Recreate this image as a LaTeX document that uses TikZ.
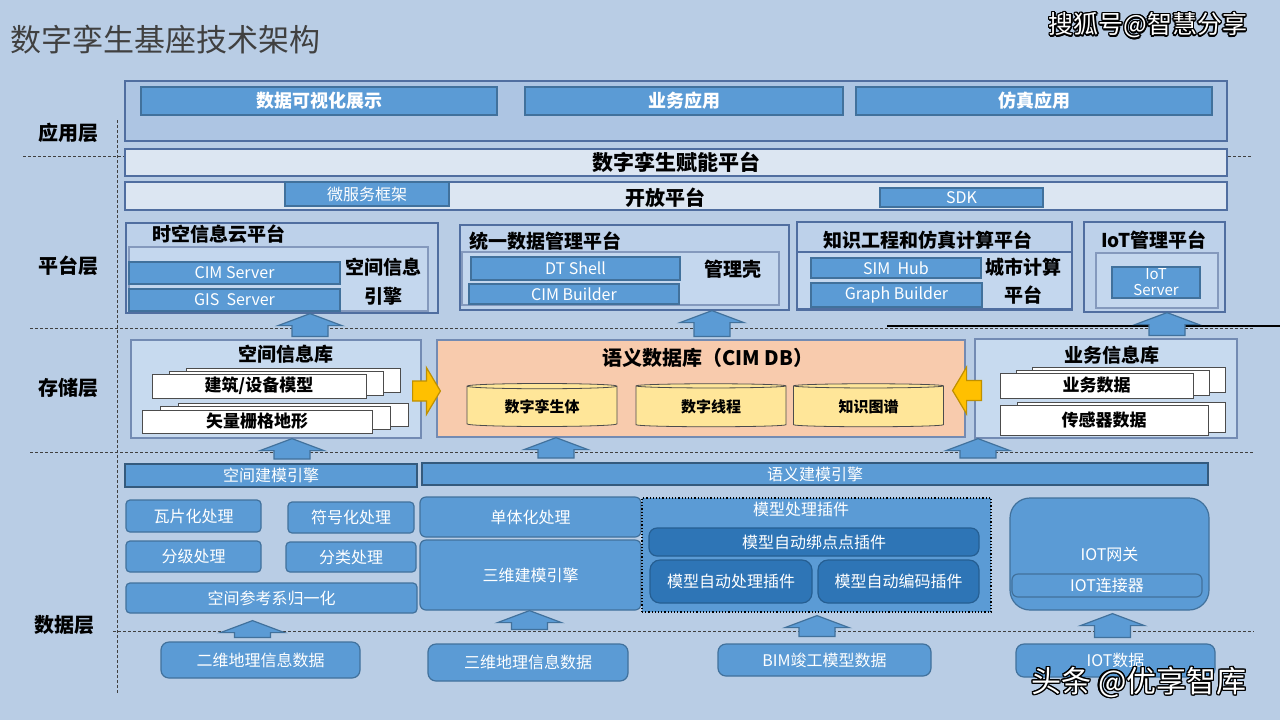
\documentclass[tikz,border=0pt]{standalone}
\usepackage{fontspec}
\setmainfont{Noto Sans CJK SC}
\usepackage{contour}
\usepackage{tikz}
\usetikzlibrary{calc,shapes.geometric,shadows}
\contourlength{0.7pt}
\definecolor{bg}{HTML}{B9CDE5}
\definecolor{mid}{HTML}{5B9BD5}
\definecolor{deep}{HTML}{2E75B6}
\definecolor{edge}{HTML}{41719C}
\definecolor{grpedge}{HTML}{506EA0}
\definecolor{grp}{HTML}{ADC5E3}
\definecolor{plat}{HTML}{BDD1EA}
\definecolor{inner}{HTML}{C4D7EE}
\definecolor{light}{HTML}{DCE6F2}
\definecolor{store}{HTML}{C7DAEF}
\definecolor{peach}{HTML}{F8CBAD}
\definecolor{cylf}{HTML}{FFE699}
\definecolor{gold}{HTML}{FFC000}
\definecolor{ttl}{HTML}{404040}
\newcommand{\hd}{\fontsize{9.5}{11}\selectfont\bfseries}
% block arrow pointing up: x from #1, tip at y of #2
\newcommand{\uparr}[2]{\path[blockup] let \p1=(#1), \p2=(#2) in
  (\x1-9pt,\y1) -- (\x1-9pt,\y2-6pt) -- (\x1-16pt,\y2-6pt) -- (\x1,\y2)
  -- (\x1+16pt,\y2-6pt) -- (\x1+9pt,\y2-6pt) -- (\x1+9pt,\y1) -- cycle;}
% horizontal block arrow: y from #1, tip at x of #2, head length #3
\newcommand{\sidearr}[3]{\path[yarrow] let \p1=(#1), \p2=(#2) in
  (\x1,\y1-5pt) -- ({\x2-(#3)},\y1-5pt) -- ({\x2-(#3)},\y1-11.75pt) -- (\x2,\y1)
  -- ({\x2-(#3)},\y1+11.75pt) -- ({\x2-(#3)},\y1+5pt) -- (\x1,\y1+5pt) -- cycle;}
\tikzset{
  font=\fontsize{8}{9.5}\selectfont
}

\begin{document}
\begin{tikzpicture}[x=0.5pt,y=-0.5pt,
  blk/.style={rectangle,draw=edge,fill=mid,text=white,inner sep=0pt,line width=0.6pt},
  dark/.style={blk,fill=deep,draw=deep!80!black,rounded corners=4pt},
  grpbox/.style={rectangle,draw=grpedge,fill=plat,inner sep=0pt,line width=0.6pt},
  bar/.style={grpbox,fill=light},
  layer/.style={font=\fontsize{10}{12}\selectfont\bfseries},
  head/.style={font=\hd},
  page/.style={rectangle,draw=gray!60!black,fill=white,inner sep=0pt,font=\fontsize{8.5}{10}\selectfont\bfseries},
  cyl/.style={cylinder,shape border rotate=90,aspect=0.07,draw=gray!60!black,fill=cylf,
    minimum width=75pt,minimum height=21.5pt,inner sep=0pt,font=\fontsize{7.5}{9}\selectfont\bfseries},
  sep/.style={draw=ttl,line width=0.5pt,dash pattern=on 1.5pt off 1pt},
  blockup/.style={fill=mid,draw=edge,line width=0.6pt},
  yarrow/.style={fill=gold,draw=gold!75!black,line width=0.6pt}]
\useasboundingbox (0,0) rectangle (1280,720);
\fill[bg] (0,0) rectangle (1280,720);

% layer separators
\draw[sep] (23,156) -- (1253,156);
\draw[sep] (30,328) -- (1254,328);
\draw[sep] (30,452) -- (1254,452);
\draw[sep] (113,631) -- (1254,631);
\draw[sep] (117,120) -- (117,695);
\draw[black,line width=0.8pt] (887,326) -- (1280,326);

\node[anchor=west,text=ttl,font=\fontsize{15.5}{18}\selectfont] (title) at (3,40) {数字孪生基座技术架构};
\node[text=white,font=\fontsize{12.5}{14}\selectfont] (wm1) at (1148,26) {\contour{black}{搜狐号@智慧分享}};

\node[layer] (lapp) at (69,133) {应用层};
\node[layer] (lplat) at (69,266) {平台层};
\node[layer] (lstore) at (69,388) {存储层};
\node[layer] (ldata) at (64,625) {数据层};

% application layer
\node[grpbox,fill=grp,minimum width=551pt,minimum height=30pt] (appbox) at (676,111) {};
\node[blk,font=\fontsize{9}{10}\selectfont\bfseries,minimum width=178pt,minimum height=14pt] (vis) at (319,101) {数据可视化展示};
\node[blk,font=\fontsize{9}{10}\selectfont\bfseries,minimum width=159pt,minimum height=14pt] (bizapp) at (684,101) {业务应用};
\node[blk,font=\fontsize{9}{10}\selectfont\bfseries,minimum width=178pt,minimum height=14pt] (simapp) at (1034,101) {仿真应用};

% platform layer
\node[bar,font=\fontsize{10.5}{12}\selectfont\bfseries,minimum width=551pt,minimum height=13.5pt] (enable) at (676,162.5) {数字孪生赋能平台};
\node[bar,minimum width=551pt,minimum height=14pt] (openp) at (676,196) {};
\node[head,font=\fontsize{10}{12}\selectfont\bfseries] (openlbl) at (665,198) {开放平台};
\node[blk,minimum width=82pt,minimum height=12pt] (msf) at (367,194) {微服务框架};
\node[blk,minimum width=81.5pt,minimum height=9.5pt] (sdk) at (961.5,197.5) {SDK};

\node[grpbox,minimum width=156pt,minimum height=45pt] (stcloud) at (282,268) {};
\node[head,anchor=west] (stcloudt) at (145,234) {时空信息云平台};
\node[grpbox,fill=inner,draw=grpedge!70,minimum width=149.5pt,minimum height=32pt] (stinner) at (278.5,279) {};
\node[blk,minimum width=105.5pt,minimum height=11pt] (cimsrv) at (234.5,273) {CIM Server};
\node[blk,minimum width=105.5pt,minimum height=11pt] (gissrv) at (234.5,300) {GIS\ \ Server};
\node[head,align=center,font=\fontsize{9.5}{14.5}\selectfont\bfseries] (spengine) at (383,282) {空间信息\\引擎};

\node[grpbox,minimum width=164.5pt,minimum height=42.5pt] (dmp) at (624.5,267.5) {};
\node[head,anchor=west] (dmpt) at (462,241) {统一数据管理平台};
\node[grpbox,fill=inner,draw=grpedge!70,minimum width=158.5pt,minimum height=26.5pt] (dmpin) at (620.5,278.5) {};
\node[blk,minimum width=104.5pt,minimum height=11.5pt] (dtshell) at (575.5,268.5) {DT Shell};
\node[blk,minimum width=105pt,minimum height=10pt] (cimbld) at (574,294) {CIM Builder};
\node[head] (shell) at (733,269) {管理壳};

\node[grpbox,minimum width=137.5pt,minimum height=44pt] (kep) at (934.5,266) {};
\node[grpbox,fill=inner,minimum width=137.5pt,minimum height=28.5pt] (kepin) at (934.5,280.5) {};
\node[head,anchor=west] (kept) at (816,240) {知识工程和仿真计算平台};
\node[blk,minimum width=85pt,minimum height=10pt] (simhub) at (896,268) {SIM\ \ Hub};
\node[blk,minimum width=85.5pt,minimum height=12pt] (graphb) at (896.5,295) {Graph Builder};
\node[head,align=center,font=\fontsize{9.5}{14}\selectfont\bfseries] (citycomp) at (1023,281) {城市计算\\平台};

\node[grpbox,minimum width=70.5pt,minimum height=45pt] (iotp) at (1154.5,267) {};
\node[head] (iotpt) at (1154,240) {IoT管理平台};
\node[grpbox,fill=inner,draw=grpedge!70,minimum width=61pt,minimum height=27.5pt] (iotin) at (1157,280.5) {};
\node[blk,align=center,font=\fontsize{7.5}{8}\selectfont,minimum width=44pt,minimum height=15.5pt] (iotsrv) at (1156,282.5) {IoT\\Server};

% storage layer
\node[grpbox,fill=store,draw=grpedge!80,minimum width=145pt,minimum height=49pt] (spdb) at (276,389) {};
\node[head] (spdbt) at (286,354) {空间信息库};
\node[page,minimum width=107pt,minimum height=12pt,
  double copy shadow={shadow xshift=8.5pt,shadow yshift=1.5pt,draw=gray!60!black,fill=white}] (bimpg) at (259,386) {建筑/设备模型};
\node[page,minimum width=115pt,minimum height=11.5pt,
  double copy shadow={shadow xshift=9pt,shadow yshift=1.75pt,draw=gray!60!black,fill=white}] (terpg) at (257,421.5) {矢量栅格地形};

\node[grpbox,fill=peach,draw=grpedge!80,minimum width=264pt,minimum height=48.5pt] (cimdb) at (701,388.5) {};
\node[head,font=\fontsize{10}{12}\selectfont\bfseries] (cimdbt) at (708,358) {语义数据库（CIM DB）};
\node[cyl] (twin) at (542,406.5) {数字孪生体};
\node[cyl] (thread) at (711,406.5) {数字线程};
\node[cyl] (kgraph) at (868.5,406.5) {知识图谱};

\node[grpbox,fill=store,draw=grpedge!80,minimum width=131pt,minimum height=49.5pt] (bizdb) at (1106,388.5) {};
\node[head] (bizdbt) at (1112,355) {业务信息库};
\node[page,minimum width=96.5pt,minimum height=12.5pt,
  double copy shadow={shadow xshift=8pt,shadow yshift=1.5pt,draw=gray!60!black,fill=white}] (bizpg) at (1096.5,385.5) {业务数据};
\node[page,minimum width=104pt,minimum height=15pt,
  copy shadow={shadow xshift=8.5pt,shadow yshift=1.5pt,draw=gray!60!black,fill=white}] (senspg) at (1104,420) {传感器数据};

\coordinate (yl1) at ([xshift=-4.5pt,yshift=-1pt]spdb.east);
\coordinate (yl2) at ([xshift=2pt]cimdb.west);
\coordinate (yr1) at ([xshift=3.5pt,yshift=-1pt]bizdb.west);
\coordinate (yr2) at ([xshift=-6.5pt]cimdb.east);
\sidearr{yl1}{yl2}{7pt}
\sidearr{yr1}{yr2}{-7pt}

% data layer
\node[blk,draw=edge!80!black,line width=1pt,minimum width=146pt,minimum height=11.5pt] (spme) at (271,475.5) {空间建模引擎};
\node[blk,draw=edge!80!black,line width=1pt,minimum width=393pt,minimum height=11pt] (seme) at (815,474) {语义建模引擎};
\node[blk,rounded corners=2pt,minimum width=67.5pt,minimum height=16pt] (tile) at (193.5,516) {瓦片化处理};
\node[blk,rounded corners=2pt,minimum width=63pt,minimum height=15.5pt] (symb) at (351,517.5) {符号化处理};
\node[blk,rounded corners=2pt,minimum width=67.5pt,minimum height=15.5pt] (grade) at (193.5,556.5) {分级处理};
\node[blk,rounded corners=2pt,minimum width=65pt,minimum height=15pt] (classf) at (351,557) {分类处理};
\node[blk,rounded corners=2pt,minimum width=145.5pt,minimum height=15pt] (crs) at (271.5,598) {空间参考系归一化};
\node[blk,rounded corners=3pt,minimum width=110.5pt,minimum height=20pt] (mono) at (530.5,517) {单体化处理};
\node[blk,rounded corners=3pt,minimum width=110.5pt,minimum height=35pt] (mod3d) at (530.5,575) {三维建模引擎};

\node[blk,draw=black,densely dotted,minimum width=174.5pt,minimum height=57pt] (plugin) at (816.5,555) {};
\node[text=white] (plugint) at (801,509) {模型处理插件};
\node[dark,minimum width=165pt,minimum height=14pt] (bind) at (814,542) {模型自动绑点点插件};
\node[dark,rounded corners=5pt,minimum width=81pt,minimum height=21.5pt] (autoproc) at (731,581.5) {模型自动处理插件};
\node[dark,rounded corners=5pt,minimum width=80.5pt,minimum height=21.5pt] (autocode) at (898.5,581.5) {模型自动编码插件};

\node[blk,rounded corners=10pt,minimum width=99.5pt,minimum height=56pt] (iotgw) at (1109.5,554) {IOT网关};
\node[blk,rounded corners=3pt,minimum width=95pt,minimum height=11.5pt] (iotconn) at (1107,585.5) {IOT连接器};

\node[blk,rounded corners=4pt,minimum width=99.5pt,minimum height=18pt] (d2d) at (260.5,660) {二维地理信息数据};
\node[blk,rounded corners=4pt,minimum width=100pt,minimum height=18.5pt] (d3d) at (528,662.5) {三维地理信息数据};
\node[blk,rounded corners=4pt,minimum width=106.5pt,minimum height=16pt] (dbim) at (824.5,660) {BIM竣工模型数据};
\node[blk,rounded corners=4pt,minimum width=99.5pt,minimum height=16.5pt] (diot) at (1115.5,660.5) {IOT数据};

% block arrows between layers
\coordinate (u1) at ([xshift=17pt,yshift=1.5pt]spdb.north);
\coordinate (u2) at ([xshift=5.5pt,yshift=1.5pt]cimdb.north);
\coordinate (u3) at ([xshift=30.5pt,yshift=1.5pt]bizdb.north);
\coordinate (u4) at ([xshift=10.5pt,yshift=2pt]spme.north);
\coordinate (u5) at ([xshift=-129.5pt,yshift=2pt]seme.north);
\coordinate (u6) at ([xshift=81.5pt,yshift=2pt]seme.north);
\coordinate (u7) at ([xshift=-4pt,yshift=2pt]d2d.north);
\coordinate (u8) at ([xshift=0.75pt,yshift=7pt]d3d.north);
\coordinate (u9) at ([xshift=-3.75pt,yshift=3.5pt]dbim.north);
\coordinate (u10) at ([xshift=-1.5pt,yshift=3pt]diot.north);
\coordinate (t7) at ([yshift=-3.5pt]crs.south);
\coordinate (t9) at ([yshift=-1.5pt]plugin.south);
\coordinate (t10) at ([yshift=-1.5pt]iotgw.south);
\uparr{u1}{stcloud.south}
\uparr{u2}{dmp.south}
\uparr{u3}{iotp.south}
\uparr{u4}{spdb.south}
\uparr{u5}{cimdb.south}
\uparr{u6}{bizdb.south}
\uparr{u7}{t7}
\uparr{u8}{mod3d.south}
\uparr{u9}{t9}
\uparr{u10}{t10}

\node[text=white,font=\fontsize{15}{17}\selectfont] (wm2) at (1139,683) {\contour{black}{头条 @优享智库}};
\end{tikzpicture}
\end{document}
